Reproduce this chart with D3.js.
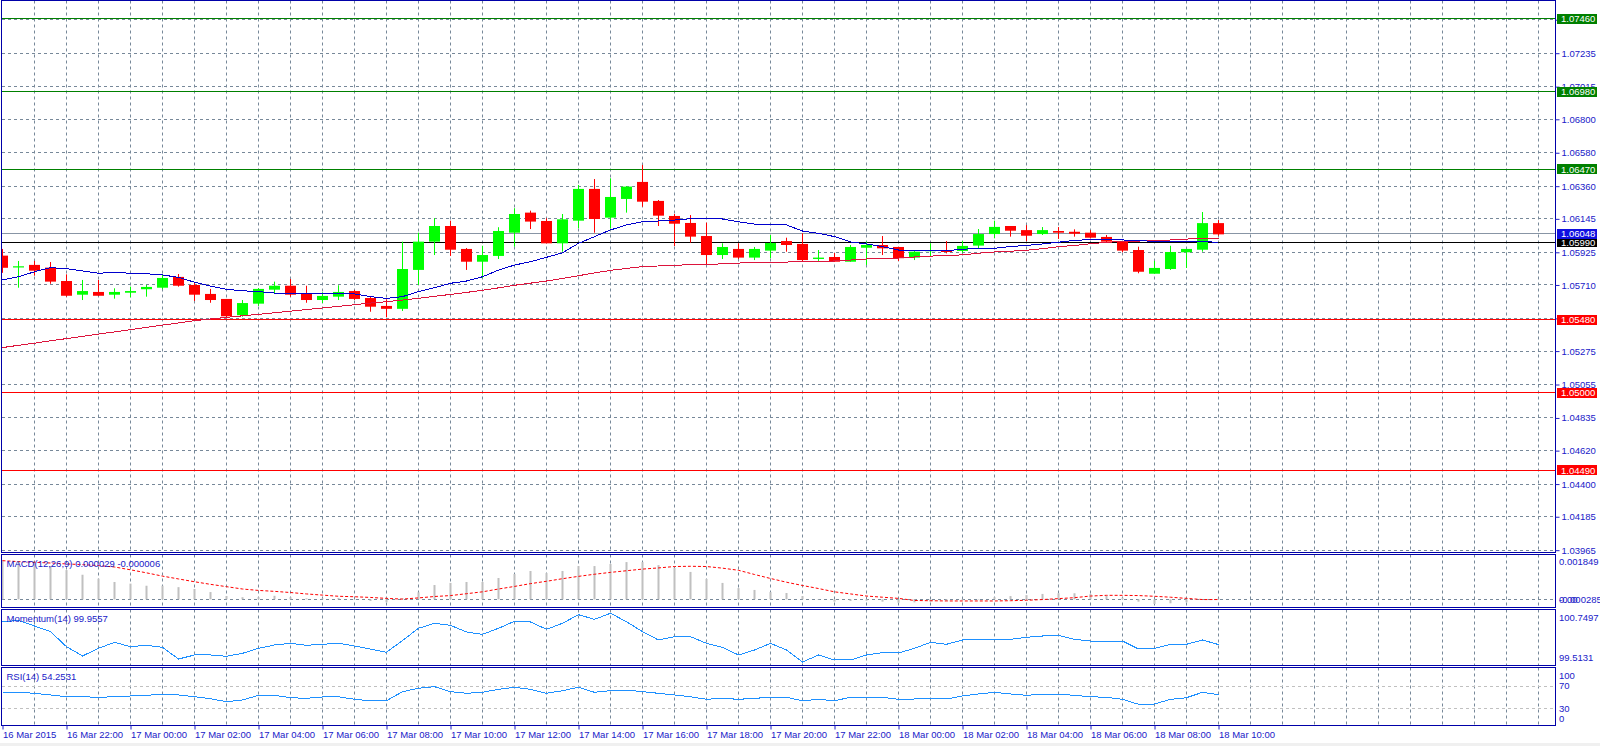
<!DOCTYPE html>
<html>
<head>
<meta charset="utf-8">
<script src="https://cdn.jsdelivr.net/npm/d3@7"></script>
<style>
body { margin: 0; background: #fff; }
svg { display: block; font-family: "Liberation Sans", Arial, sans-serif; }
</style>
</head>
<body>
<svg id="chart" width="1600" height="746"></svg>
<script>
// EURUSD M30, 16 Mar 2015 20:00 .. 18 Mar 10:00
var opens = [1.05903,1.05825,1.05842,1.05824,1.05736,1.05646,1.05664,1.05646,1.05659,1.05682,
	1.05692,1.05763,1.05710,1.05651,1.05618,1.05511,1.05587,1.05679,1.05705,1.05657,
	1.05611,1.05633,1.05670,1.05624,1.05572,1.05553,1.05809,1.05995,1.06098,1.05947,
	1.05863,1.05901,1.06054,1.06186,1.06131,1.05984,1.06133,1.06342,1.06153,1.06276,
	1.06388,1.06263,1.06164,1.06118,1.06032,1.05907,1.05947,1.05890,1.05936,1.05999,
	1.05980,1.05881,1.05894,1.05863,1.05955,1.05973,1.05960,1.05890,1.05932,1.05940,
	1.05934,1.05969,1.06045,1.06098,1.06071,1.06045,1.06065,1.06060,1.06054,1.06026,
	1.05999,1.05940,1.05784,1.05815,1.05925,1.05942,1.06117];
var highs = [1.05947,1.05868,1.05868,1.05861,1.05780,1.05743,1.05743,1.05688,1.05699,1.05710,
	1.05780,1.05782,1.05728,1.05684,1.05618,1.05611,1.05690,1.05732,1.05749,1.05705,
	1.05662,1.05708,1.05677,1.05631,1.05616,1.05995,1.06054,1.06149,1.06133,1.05953,
	1.05968,1.06090,1.06215,1.06199,1.06149,1.06177,1.06368,1.06407,1.06412,1.06361,
	1.06500,1.06269,1.06177,1.06170,1.06120,1.05984,1.05984,1.05960,1.06039,1.06021,
	1.06050,1.05940,1.05920,1.05973,1.05995,1.06032,1.05960,1.05940,1.05984,1.05999,
	1.05999,1.06078,1.06133,1.06098,1.06104,1.06091,1.06091,1.06076,1.06071,1.06039,
	1.05999,1.05962,1.05868,1.05968,1.05947,1.06190,1.06137];
var lows = [1.05790,1.05692,1.05771,1.05718,1.05633,1.05611,1.05638,1.05620,1.05629,1.05633,
	1.05682,1.05699,1.05605,1.05593,1.05497,1.05501,1.05572,1.05655,1.05633,1.05593,
	1.05591,1.05611,1.05611,1.05534,1.05497,1.05539,1.05710,1.05907,1.05901,1.05809,
	1.05756,1.05881,1.05962,1.06078,1.05984,1.05929,1.06083,1.06054,1.06083,1.06186,
	1.06225,1.06098,1.05966,1.05988,1.05842,1.05881,1.05881,1.05874,1.05886,1.05929,
	1.05863,1.05868,1.05863,1.05863,1.05842,1.05907,1.05868,1.05874,1.05896,1.05918,
	1.05922,1.05953,1.06017,1.06028,1.05999,1.06039,1.06013,1.06028,1.06016,1.05988,
	1.05925,1.05787,1.05784,1.05809,1.05822,1.05929,1.06034];
var closes = [1.05823,1.05833,1.05804,1.05732,1.05639,1.05670,1.05639,1.05664,1.05670,1.05697,
	1.05756,1.05705,1.05646,1.05611,1.05504,1.05591,1.05684,1.05705,1.05646,1.05611,
	1.05638,1.05664,1.05618,1.05567,1.05553,1.05815,1.05995,1.06098,1.05942,1.05863,
	1.05907,1.06065,1.06177,1.06127,1.05984,1.06142,1.06342,1.06144,1.06289,1.06357,
	1.06258,1.06166,1.06113,1.06028,1.05907,1.05960,1.05890,1.05947,1.05986,1.05973,
	1.05874,1.05890,1.05863,1.05960,1.05973,1.05951,1.05886,1.05929,1.05940,1.05927,
	1.05967,1.06045,1.06092,1.06067,1.06034,1.06071,1.06054,1.06047,1.06021,1.05995,
	1.05936,1.05797,1.05822,1.05927,1.05947,1.06117,1.06043];

// moving averages (blue = fast, crimson = slow)
var maFast = [1.05743,1.05764,1.05797,1.05824,1.05817,1.05802,1.05787,1.05793,1.05787,1.05784,
	1.05776,1.05760,1.05728,1.05703,1.05681,1.05672,1.05666,1.05657,1.05655,1.05655,
	1.05655,1.05655,1.05651,1.05633,1.05622,1.05633,1.05667,1.05692,1.05721,1.05736,
	1.05764,1.05808,1.05841,1.05863,1.05892,1.05922,1.05984,1.06028,1.06072,1.06105,
	1.06126,1.06131,1.06137,1.06146,1.06149,1.06144,1.06126,1.06111,1.06109,1.06105,
	1.06065,1.06050,1.06028,1.05993,1.05980,1.05962,1.05940,1.05934,1.05936,1.05936,
	1.05945,1.05951,1.05951,1.05963,1.05970,1.05980,1.05991,1.06004,1.06008,1.06010,
	1.06006,1.06004,1.05995,1.05993,1.05995,1.05995,1.05991];
var maSlow = [1.05298,1.05313,1.05327,1.05343,1.05357,1.05372,1.05387,1.05401,1.05416,1.05431,
	1.05446,1.05460,1.05475,1.05486,1.05497,1.05507,1.05517,1.05527,1.05538,1.05548,
	1.05559,1.05569,1.05580,1.05591,1.05600,1.05611,1.05622,1.05635,1.05648,1.05661,
	1.05675,1.05691,1.05708,1.05722,1.05736,1.05753,1.05771,1.05789,1.05806,1.05819,
	1.05831,1.05835,1.05840,1.05843,1.05845,1.05849,1.05854,1.05859,1.05860,1.05861,
	1.05862,1.05863,1.05868,1.05874,1.05881,1.05883,1.05887,1.05894,1.05900,1.05904,
	1.05908,1.05919,1.05927,1.05932,1.05938,1.05949,1.05962,1.05970,1.05981,1.05991,
	1.05996,1.05999,1.06001,1.06006,1.06012,1.06017,1.06017];

// MACD(12,26,9)
var macdHist = [0.00168,0.00160,0.00154,0.00142,0.00125,0.00105,0.00088,0.00074,0.00067,0.00058,
	0.00058,0.00052,0.00044,0.00031,0.00014,0.00009,0.00009,0.00015,0.00009,0.00004,
	0.00004,0.00006,0.00000,-0.00007,-0.00013,0.00004,0.00030,0.00061,0.00070,0.00074,
	0.00074,0.00091,0.00108,0.00121,0.00112,0.00121,0.00142,0.00142,0.00151,0.00159,
	0.00159,0.00146,0.00134,0.00117,0.00087,0.00070,0.00048,0.00040,0.00031,0.00027,
	0.00014,0.00001,-0.00010,-0.00007,-0.00006,-0.00010,-0.00015,-0.00013,-0.00010,-0.00007,
	-0.00004,0.00001,0.00009,0.00014,0.00018,0.00023,0.00026,0.00026,0.00023,0.00015,
	0.00007,-0.00010,-0.00020,-0.00017,-0.00013,0.00000,0.00003];
var macdSignal = [0.00165,0.00161,0.00158,0.00155,0.00151,0.00148,0.00144,0.00138,0.00126,0.00113,
	0.00099,0.00087,0.00075,0.00064,0.00054,0.00044,0.00038,0.00034,0.00029,0.00023,
	0.00018,0.00013,0.00011,0.00008,0.00004,0.00001,0.00006,0.00012,0.00016,0.00024,
	0.00032,0.00044,0.00055,0.00067,0.00077,0.00088,0.00098,0.00107,0.00115,0.00122,
	0.00129,0.00134,0.00140,0.00141,0.00140,0.00133,0.00124,0.00106,0.00089,0.00073,
	0.00059,0.00046,0.00032,0.00023,0.00014,0.00009,0.00004,-0.00005,-0.00006,-0.00007,
	-0.00007,-0.00007,-0.00007,-0.00006,-0.00004,-0.00001,0.00003,0.00007,0.00014,0.00017,
	0.00017,0.00016,0.00013,0.00009,0.00004,-0.00001,-0.00001];

// Momentum(14)
var momentum = [100.536,100.567,100.427,100.283,99.902,99.666,99.861,100.013,99.902,99.937,
	99.886,99.589,99.691,99.691,99.658,99.734,99.861,99.945,99.988,99.937,
	99.963,99.988,99.919,99.843,99.759,100.059,100.369,100.496,100.445,100.275,
	100.216,100.369,100.547,100.529,100.343,100.496,100.714,100.597,100.750,100.536,
	100.283,100.072,100.156,100.156,99.988,99.886,99.691,99.818,99.988,99.818,
	99.513,99.691,99.564,99.564,99.691,99.749,99.742,99.861,100.013,99.963,
	100.072,100.090,100.090,100.090,100.140,100.173,100.191,100.090,100.046,100.029,
	100.046,99.843,99.861,99.963,99.963,100.072,99.956];

// RSI(14)
var rsi = [58.7,58.7,56.9,53.9,50.8,50.8,49.7,50.8,52.1,53.3,
	55.1,53.9,50.8,47.2,41.8,44.9,53.3,53.3,49.0,47.9,
	50.3,50.8,46.1,43.6,43.6,59.8,65.9,68.8,59.8,56.9,
	58.7,64.1,67.7,64.1,56.9,61.6,67.7,58.7,61.6,62.8,
	59.8,56.9,53.9,50.8,46.1,47.9,46.1,47.9,49.7,49.7,
	43.6,46.1,43.6,49.7,49.7,49.7,46.1,46.7,46.7,46.7,
	52.1,55.7,58.7,55.7,53.3,55.1,55.1,53.3,50.8,49.7,
	46.1,37.2,37.7,46.1,49.0,58.7,54.3];

var priceTicks = [1.07455,1.07235,1.07015,1.06800,1.06580,1.06360,1.06145,1.05925,1.05710,
	1.05490,1.05275,1.05055,1.04835,1.04620,1.04400,1.04185,1.03965];
var timeLabels = ["16 Mar 2015","16 Mar 22:00","17 Mar 00:00","17 Mar 02:00","17 Mar 04:00",
	"17 Mar 06:00","17 Mar 08:00","17 Mar 10:00","17 Mar 12:00","17 Mar 14:00","17 Mar 16:00",
	"17 Mar 18:00","17 Mar 20:00","17 Mar 22:00","18 Mar 00:00","18 Mar 02:00","18 Mar 04:00",
	"18 Mar 06:00","18 Mar 08:00","18 Mar 10:00"];

var levelValues = [1.07460,1.06980,1.06470,1.05480,1.05000,1.04490];
var levelColors = ["#008000","#008000","#008000","#ff0000","#ff0000","#ff0000"];
var askPrice = 1.06048, bidPrice = 1.05990;

var frameColor = "#0000a8",
	textColor = "#2020c8",
	gridColor = "#778899",
	axisX = 1555.5,
	svg = d3.select("#chart"),
	font = "'Liberation Sans', Arial, sans-serif";

var panels = {
	main: {top: 0.5, bottom: 552.5},
	macd: {top: 554.5, bottom: 607.5},
	mom: {top: 609.5, bottom: 665.5},
	rsi: {top: 667.5, bottom: 725.5}
};

var t0 = new Date(Date.UTC(2015, 2, 16, 20)),
	tN = new Date(Date.UTC(2015, 2, 18, 10)),
	x = d3.scaleTime().domain([t0, tN]).range([2.5, 1218.5]),
	times = closes.map(function(d, i) { return d3.utcMinute.offset(t0, 30 * i); });

var yMain = d3.scaleLinear().domain([1.03953, 1.07585]).range([552, 0]),
	yMacd = d3.scaleLinear().domain([-0.000285, 0.001849]).range([606, 556]),
	yMom = d3.scaleLinear().domain([99.5131, 100.7497]).range([662, 613.3]),
	yRsi = d3.scaleLinear().domain([0, 100]).range([725, 669.3]);

function crisp(v) { return Math.round(v - 0.5) + 0.5; }

// status strip at the very bottom
svg.append("rect").attr("x", 0).attr("y", 743).attr("width", 1600).attr("height", 3).attr("fill", "#f0f0f0");

// clip paths for every panel
var defs = svg.append("defs");
Object.keys(panels).forEach(function(k) {
	var p = panels[k];
	defs.append("clipPath").attr("id", "clip-" + k)
		.append("rect").attr("x", 2).attr("y", p.top + 0.5)
		.attr("width", axisX - 2.5).attr("height", p.bottom - p.top - 1);
});

// vertical hourly grid in every panel
var hourTicks = d3.utcHour.range(d3.utcHour.offset(t0, 1), x.invert(axisX));
Object.keys(panels).forEach(function(k) {
	var p = panels[k];
	svg.append("g").attr("clip-path", "url(#clip-" + k + ")")
		.selectAll("line").data(hourTicks).enter().append("line")
		.attr("x1", function(d) { return crisp(x(d)); })
		.attr("x2", function(d) { return crisp(x(d)); })
		.attr("y1", p.top).attr("y2", p.bottom)
		.attr("stroke", gridColor).attr("stroke-dasharray", "3,3");
});

// main panel
var main = svg.append("g").attr("clip-path", "url(#clip-main)");

main.selectAll(".hgrid").data(priceTicks).enter().append("line")
	.attr("x1", 2).attr("x2", axisX)
	.attr("y1", function(d) { return crisp(yMain(d)); })
	.attr("y2", function(d) { return crisp(yMain(d)); })
	.attr("stroke", gridColor).attr("stroke-dasharray", "3,3");

main.selectAll(".level").data(levelValues).enter().append("line")
	.attr("x1", 2).attr("x2", axisX)
	.attr("y1", function(d) { return crisp(yMain(d)); })
	.attr("y2", function(d) { return crisp(yMain(d)); })
	.attr("stroke", function(d, i) { return levelColors[i]; });

main.append("line").attr("x1", 2).attr("x2", axisX)
	.attr("y1", crisp(yMain(askPrice))).attr("y2", crisp(yMain(askPrice)))
	.attr("stroke", "#8895a5");
main.append("line").attr("x1", 2).attr("x2", axisX)
	.attr("y1", crisp(yMain(bidPrice))).attr("y2", crisp(yMain(bidPrice)))
	.attr("stroke", "#000");

// candles
var candles = main.selectAll(".candle").data(closes).enter().append("g");
candles.append("rect")
	.attr("x", function(d, i) { return x(times[i]) - 0.5; })
	.attr("width", 1)
	.attr("y", function(d, i) { return yMain(highs[i]); })
	.attr("height", function(d, i) { return yMain(lows[i]) - yMain(highs[i]); })
	.attr("fill", function(d, i) { return d >= opens[i] ? "#00ff00" : "#ff0000"; });
candles.append("rect")
	.attr("x", function(d, i) { return x(times[i]) - 5.5; })
	.attr("width", 11)
	.attr("y", function(d, i) { return yMain(Math.max(opens[i], d)); })
	.attr("height", function(d, i) { return Math.max(1, Math.abs(yMain(opens[i]) - yMain(d))); })
	.attr("fill", function(d, i) { return d >= opens[i] ? "#00ff00" : "#ff0000"; });

var maLine = d3.line()
	.x(function(d, i) { return x(times[i]); })
	.y(function(d) { return yMain(d); });
main.append("path").datum(maSlow).attr("d", maLine)
	.attr("fill", "none").attr("stroke", "#dc143c").attr("shape-rendering", "crispEdges");
main.append("path").datum(maFast).attr("d", maLine)
	.attr("fill", "none").attr("stroke", "#0000cd").attr("shape-rendering", "crispEdges");

// MACD panel
var macd = svg.append("g").attr("clip-path", "url(#clip-macd)");
macd.append("line").attr("x1", 2).attr("x2", axisX)
	.attr("y1", crisp(yMacd(0))).attr("y2", crisp(yMacd(0)))
	.attr("stroke", gridColor).attr("stroke-dasharray", "3,3");
macd.selectAll(".bar").data(macdHist).enter().append("rect")
	.attr("x", function(d, i) { return x(times[i]) - 1; })
	.attr("width", 2)
	.attr("y", function(d) { return Math.min(yMacd(0), yMacd(d)); })
	.attr("height", function(d) { return Math.max(0.5, Math.abs(yMacd(d) - yMacd(0))); })
	.attr("fill", "#c0c0c0");
macd.append("path").datum(macdSignal)
	.attr("d", d3.line().x(function(d, i) { return x(times[i]); }).y(function(d) { return yMacd(d); }))
	.attr("fill", "none").attr("stroke", "#ff0000").attr("stroke-dasharray", "3,2");

// Momentum panel
var mom = svg.append("g").attr("clip-path", "url(#clip-mom)");
mom.append("path").datum(momentum)
	.attr("d", d3.line().x(function(d, i) { return x(times[i]); }).y(function(d) { return yMom(d); }))
	.attr("fill", "none").attr("stroke", "#1e90ff").attr("shape-rendering", "crispEdges");

// RSI panel
var rsiG = svg.append("g").attr("clip-path", "url(#clip-rsi)");
rsiG.selectAll(".lvl").data([70, 30]).enter().append("line")
	.attr("x1", 2).attr("x2", axisX)
	.attr("y1", function(d) { return crisp(yRsi(d)); })
	.attr("y2", function(d) { return crisp(yRsi(d)); })
	.attr("stroke", "#c0c0c0").attr("stroke-dasharray", "3,3");
rsiG.append("path").datum(rsi)
	.attr("d", d3.line().x(function(d, i) { return x(times[i]); }).y(function(d) { return yRsi(d); }))
	.attr("fill", "none").attr("stroke", "#1e90ff").attr("shape-rendering", "crispEdges");

// panel frames
Object.keys(panels).forEach(function(k) {
	var p = panels[k];
	svg.append("rect").attr("x", 1.5).attr("y", p.top)
		.attr("width", axisX - 1.5).attr("height", p.bottom - p.top)
		.attr("fill", "none").attr("stroke", frameColor);
});

// price axis
var yAxis = svg.append("g")
	.attr("transform", "translate(" + axisX + ",0)")
	.call(d3.axisRight(yMain).tickValues(priceTicks).tickFormat(d3.format(".5f")).tickSize(4).tickPadding(2));
yAxis.select(".domain").remove();
yAxis.attr("color", textColor).attr("font-family", font).attr("font-size", 9.5);

// highlighted price labels
function priceTag(v, bg) {
	var yy = yMain(v);
	svg.append("rect").attr("x", 1557).attr("y", Math.round(yy) - 5)
		.attr("width", 40).attr("height", 10).attr("fill", bg);
	svg.append("text").attr("x", 1561).attr("y", yy).attr("dy", "0.35em")
		.attr("font-family", font).attr("font-size", 9.5).attr("fill", "#fff")
		.text(d3.format(".5f")(v));
}
levelValues.forEach(function(v, i) { priceTag(v, levelColors[i]); });
priceTag(bidPrice, "#000");
priceTag(askPrice, "#1010e0");

// indicator scale labels
function sideLabel(txt, yy) {
	svg.append("text").attr("x", 1559).attr("y", yy).attr("dy", "0.35em")
		.attr("font-family", font).attr("font-size", 9.5).attr("fill", textColor).text(txt);
}
sideLabel("0.001849", yMacd(0.001849) + 5.5);
sideLabel("-0.000285", yMacd(-0.000285) - 6);
sideLabel("0.00", yMacd(-0.000285) - 6);
sideLabel("100.7497", yMom(100.7497) + 4);
sideLabel("99.5131", yMom(99.5131) - 4);
sideLabel("100", yRsi(100) + 6);
sideLabel("70", yRsi(70));
sideLabel("30", yRsi(30));
sideLabel("0", yRsi(0) - 6);

// indicator titles
var titles = [["MACD(12,26,9) 0.000029 -0.000006", panels.macd.top + 9.5],
	["Momentum(14) 99.9557", panels.mom.top + 9.5],
	["RSI(14) 54.2531", panels.rsi.top + 9]];
titles.forEach(function(t) {
	svg.append("text").attr("x", 6.5).attr("y", t[1]).attr("dy", "0.35em")
		.attr("font-family", font).attr("font-size", 9.5).attr("fill", textColor).text(t[0]);
});

// time axis
var labelTimes = d3.utcHour.every(2).range(t0, d3.utcHour.offset(tN, 1));
var xAxis = svg.append("g")
	.attr("transform", "translate(0," + panels.rsi.bottom + ")")
	.call(d3.axisBottom(x).tickValues(labelTimes)
		.tickFormat(function(d, i) { return timeLabels[i]; }).tickSize(4).tickPadding(2));
xAxis.select(".domain").remove();
xAxis.attr("color", textColor).attr("font-family", font).attr("font-size", 9.5);
xAxis.selectAll("text").attr("text-anchor", "start").attr("x", 0);
</script>
</body>
</html>
